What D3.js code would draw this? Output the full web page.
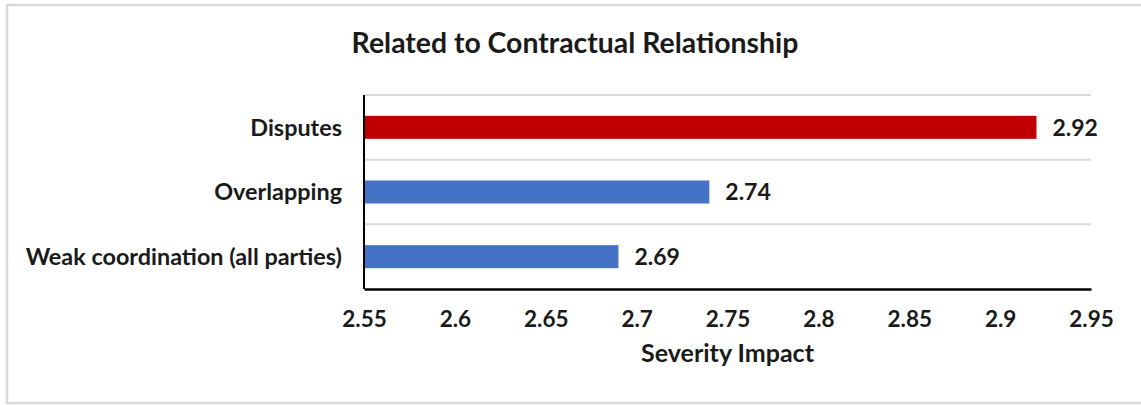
<!DOCTYPE html>
<html>
<head>
<meta charset="utf-8">
<script src="https://cdn.jsdelivr.net/npm/d3@7"></script>
<style>
  html, body { margin: 0; padding: 0; background: #fff; }
  svg { display: block; }
  text { font-family: Lato, "Open Sans", sans-serif; font-weight: bold; fill: #1a1a1a; }
</style>
</head>
<body>
<svg id="chart" width="1141" height="405"></svg>
<script>
const categories = ["Disputes", "Overlapping", "Weak coordination (all parties)"];
const values = [2.92, 2.74, 2.69];
const barColors = ["#c00000", "#4472c4", "#4472c4"];
const tickValues = [2.55, 2.6, 2.65, 2.7, 2.75, 2.8, 2.85, 2.9, 2.95];
const tickLabels = ["2.55", "2.6", "2.65", "2.7", "2.75", "2.8", "2.85", "2.9", "2.95"];
const titleText = "Related to Contractual Relationship";
const xAxisTitle = "Severity Impact";

const svg = d3.select("#chart");

// outer border
svg.append("rect")
  .attr("x", 7).attr("y", 5).attr("width", 1145).attr("height", 398)
  .attr("fill", "#fff").attr("stroke", "#d9d9d9").attr("stroke-width", 2.5);

const pLeft = 364, pRight = 1091, pTop = 95, pBottom = 289;

const x = d3.scaleLinear().domain([2.55, 2.95]).range([pLeft, pRight]);
const y = d3.scaleBand().domain(categories).range([pTop, pBottom]).paddingInner(0).paddingOuter(0);

// gridlines at band boundaries
const bounds = categories.map(c => y(c));
svg.append("g").selectAll("line").data(bounds).join("line")
  .attr("x1", pLeft).attr("x2", pRight)
  .attr("y1", d => d).attr("y2", d => d)
  .attr("stroke", "#d9d9d9").attr("stroke-width", 2);

// bars
const barH = 23;
svg.append("g").selectAll("rect").data(categories).join("rect")
  .attr("x", x(2.55))
  .attr("y", c => y(c) + y.bandwidth() / 2 - barH / 2)
  .attr("width", (c, i) => x(values[i]) - x(2.55))
  .attr("height", barH)
  .attr("fill", (c, i) => barColors[i]);

// value labels
svg.append("g").selectAll("text").data(categories).join("text")
  .attr("x", (c, i) => x(values[i]) + 16)
  .attr("y", c => y(c) + y.bandwidth() / 2)
  .attr("dy", "0.36em")
  .attr("font-size", 23)
  .text((c, i) => values[i].toFixed(2));

// y axis line (left)
svg.append("line")
  .attr("x1", pLeft).attr("x2", pLeft).attr("y1", pTop).attr("y2", pBottom)
  .attr("stroke", "#000").attr("stroke-width", 2);

// category labels
const yAxis = svg.append("g").attr("transform", `translate(${pLeft},0)`)
  .call(d3.axisLeft(y).tickSize(0).tickPadding(22));
yAxis.select(".domain").remove();
yAxis.selectAll("text").attr("font-size", 23.4).attr("fill", "#1a1a1a").attr("dy", "0.36em")
  .style("font-family", "Lato, sans-serif").style("font-weight", "bold");

// x axis
const xAxis = svg.append("g").attr("transform", `translate(0,${pBottom})`)
  .call(d3.axisBottom(x).tickValues(tickValues).tickFormat((d, i) => tickLabels[i]).tickSize(0).tickPadding(22));
xAxis.select(".domain").attr("stroke", "#000").attr("stroke-width", 2.5);
xAxis.selectAll("text").attr("font-size", 22.5).attr("fill", "#1a1a1a")
  .style("font-family", "Lato, sans-serif").style("font-weight", "bold");

// axis title
svg.append("text")
  .attr("x", (pLeft + pRight) / 2).attr("y", 362)
  .attr("text-anchor", "middle")
  .attr("font-size", 25)
  .text(xAxisTitle);

// chart title
svg.append("text")
  .attr("x", 575).attr("y", 53)
  .attr("text-anchor", "middle")
  .attr("font-size", 28.4)
  .text(titleText);
</script>
</body>
</html>
